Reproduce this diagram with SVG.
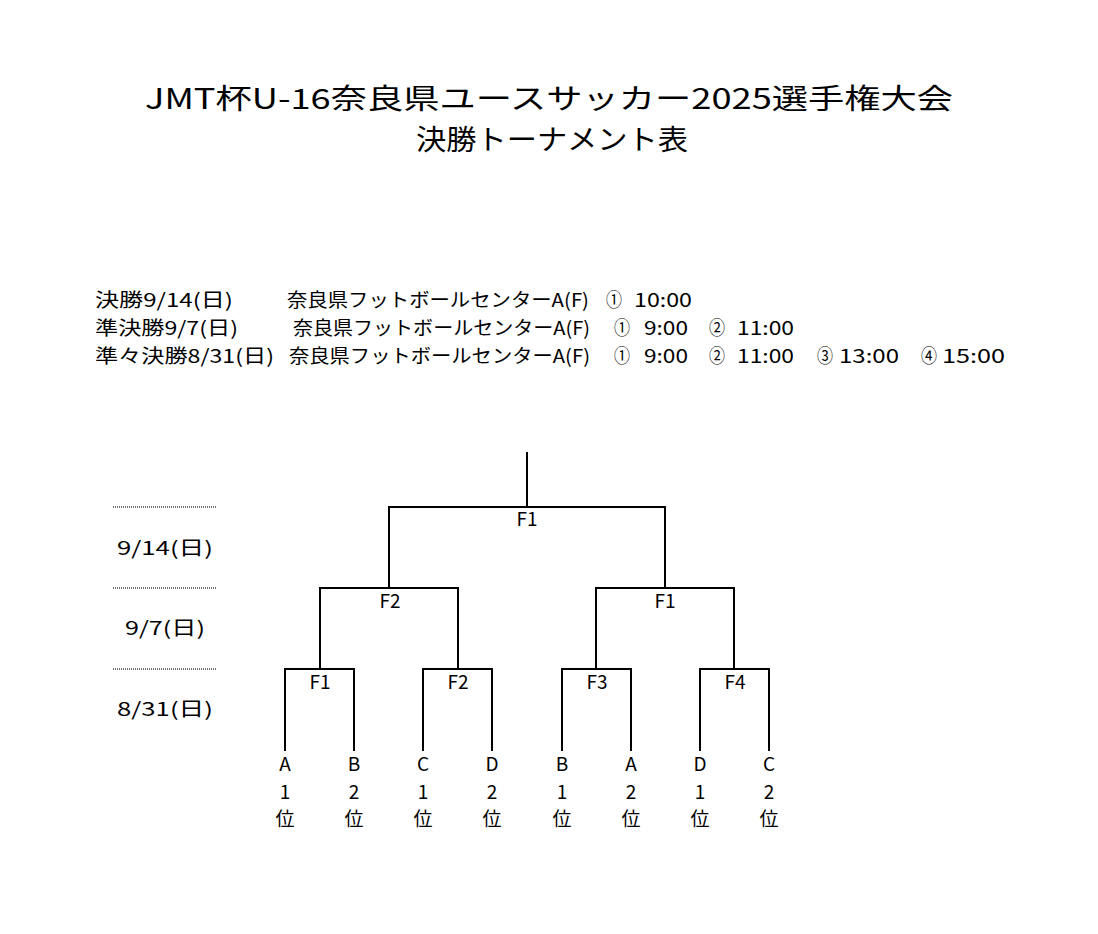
<svg xmlns="http://www.w3.org/2000/svg" width="1098" height="934" viewBox="0 0 1098 934">
<style>
text{font-family:"Noto Sans CJK JP","Noto Sans",sans-serif;fill:#000}
.title{font-size:28px}
.info{font-size:19px}
.lbl{font-size:19px;text-anchor:middle}
.br{fill:none;stroke:#000;stroke-width:2;stroke-linejoin:miter;stroke-linecap:butt}
.dot{stroke:#444;stroke-width:1.5;stroke-dasharray:1 1}
</style>
<rect width="1098" height="934" fill="#fff"/>
<g id="title">
<text class="title" x="145" y="109" textLength="808" lengthAdjust="spacingAndGlyphs">JMT杯U-16奈良県ユースサッカー2025選手権大会</text>
<text class="title" x="416" y="150" textLength="272" lengthAdjust="spacingAndGlyphs">決勝トーナメント表</text>
</g>
<g id="schedule">
<text class="info" x="95" y="307" textLength="138" lengthAdjust="spacingAndGlyphs">決勝9/14(日)</text>
<text class="info" x="287" y="307" textLength="302" lengthAdjust="spacingAndGlyphs">奈良県フットボールセンターA(F)</text>
<text class="info" x="606" y="307" textLength="16" lengthAdjust="spacingAndGlyphs">①</text>
<text class="info" x="634" y="307" textLength="58" lengthAdjust="spacingAndGlyphs">10:00</text>
<text class="info" x="95" y="335" textLength="143" lengthAdjust="spacingAndGlyphs">準決勝9/7(日)</text>
<text class="info" x="293" y="335" textLength="297" lengthAdjust="spacingAndGlyphs">奈良県フットボールセンターA(F)</text>
<text class="info" x="614" y="335" textLength="16" lengthAdjust="spacingAndGlyphs">①</text>
<text class="info" x="644" y="335" textLength="44" lengthAdjust="spacingAndGlyphs">9:00</text>
<text class="info" x="709" y="335" textLength="16" lengthAdjust="spacingAndGlyphs">②</text>
<text class="info" x="737" y="335" textLength="57" lengthAdjust="spacingAndGlyphs">11:00</text>
<text class="info" x="95" y="363" textLength="179" lengthAdjust="spacingAndGlyphs">準々決勝8/31(日)</text>
<text class="info" x="289" y="363" textLength="301" lengthAdjust="spacingAndGlyphs">奈良県フットボールセンターA(F)</text>
<text class="info" x="614" y="363" textLength="16" lengthAdjust="spacingAndGlyphs">①</text>
<text class="info" x="644" y="363" textLength="44" lengthAdjust="spacingAndGlyphs">9:00</text>
<text class="info" x="709" y="363" textLength="16" lengthAdjust="spacingAndGlyphs">②</text>
<text class="info" x="737" y="363" textLength="57" lengthAdjust="spacingAndGlyphs">11:00</text>
<text class="info" x="817" y="363" textLength="16" lengthAdjust="spacingAndGlyphs">③</text>
<text class="info" x="839" y="363" textLength="60" lengthAdjust="spacingAndGlyphs">13:00</text>
<text class="info" x="921" y="363" textLength="16" lengthAdjust="spacingAndGlyphs">④</text>
<text class="info" x="942" y="363" textLength="63" lengthAdjust="spacingAndGlyphs">15:00</text>
</g>
<g id="round-dates">
<line class="dot" x1="113" y1="507" x2="216" y2="507"/>
<line class="dot" x1="113" y1="588" x2="216" y2="588"/>
<line class="dot" x1="113" y1="669" x2="216" y2="669"/>
<text class="lbl" x="165" y="555" textLength="96" lengthAdjust="spacingAndGlyphs">9/14(日)</text>
<text class="lbl" x="165" y="635" textLength="80" lengthAdjust="spacingAndGlyphs">9/7(日)</text>
<text class="lbl" x="165" y="716" textLength="96" lengthAdjust="spacingAndGlyphs">8/31(日)</text>
</g>
<g id="connectors">
<path class="br" d="M527 452V507"/>
<path class="br" d="M389 588V507H665V588"/>
<path class="br" d="M320 669V588H458V669"/>
<path class="br" d="M596 669V588H734V669"/>
<path class="br" d="M285 751V669H354V751"/>
<path class="br" d="M423 751V669H492V751"/>
<path class="br" d="M562 751V669H631V751"/>
<path class="br" d="M700 751V669H769V751"/>
</g>
<g id="final"><text class="lbl" x="527" y="526">F1</text></g>
<g id="semi-left"><text class="lbl" x="390" y="608">F2</text></g>
<g id="semi-right"><text class="lbl" x="665" y="608">F1</text></g>
<g id="qf1"><text class="lbl" x="320" y="689">F1</text></g>
<g id="qf2"><text class="lbl" x="458" y="689">F2</text></g>
<g id="qf3"><text class="lbl" x="597" y="689">F3</text></g>
<g id="qf4"><text class="lbl" x="735" y="689">F4</text></g>
<g id="team-a1"><text class="lbl" x="285" y="771">A</text><text class="lbl" x="285" y="799">1</text><text class="lbl" x="285" y="826">位</text></g>
<g id="team-b2"><text class="lbl" x="354" y="771">B</text><text class="lbl" x="354" y="799">2</text><text class="lbl" x="354" y="826">位</text></g>
<g id="team-c1"><text class="lbl" x="423" y="771">C</text><text class="lbl" x="423" y="799">1</text><text class="lbl" x="423" y="826">位</text></g>
<g id="team-d2"><text class="lbl" x="492" y="771">D</text><text class="lbl" x="492" y="799">2</text><text class="lbl" x="492" y="826">位</text></g>
<g id="team-b1"><text class="lbl" x="562" y="771">B</text><text class="lbl" x="562" y="799">1</text><text class="lbl" x="562" y="826">位</text></g>
<g id="team-a2"><text class="lbl" x="631" y="771">A</text><text class="lbl" x="631" y="799">2</text><text class="lbl" x="631" y="826">位</text></g>
<g id="team-d1"><text class="lbl" x="700" y="771">D</text><text class="lbl" x="700" y="799">1</text><text class="lbl" x="700" y="826">位</text></g>
<g id="team-c2"><text class="lbl" x="769" y="771">C</text><text class="lbl" x="769" y="799">2</text><text class="lbl" x="769" y="826">位</text></g>
</svg>
